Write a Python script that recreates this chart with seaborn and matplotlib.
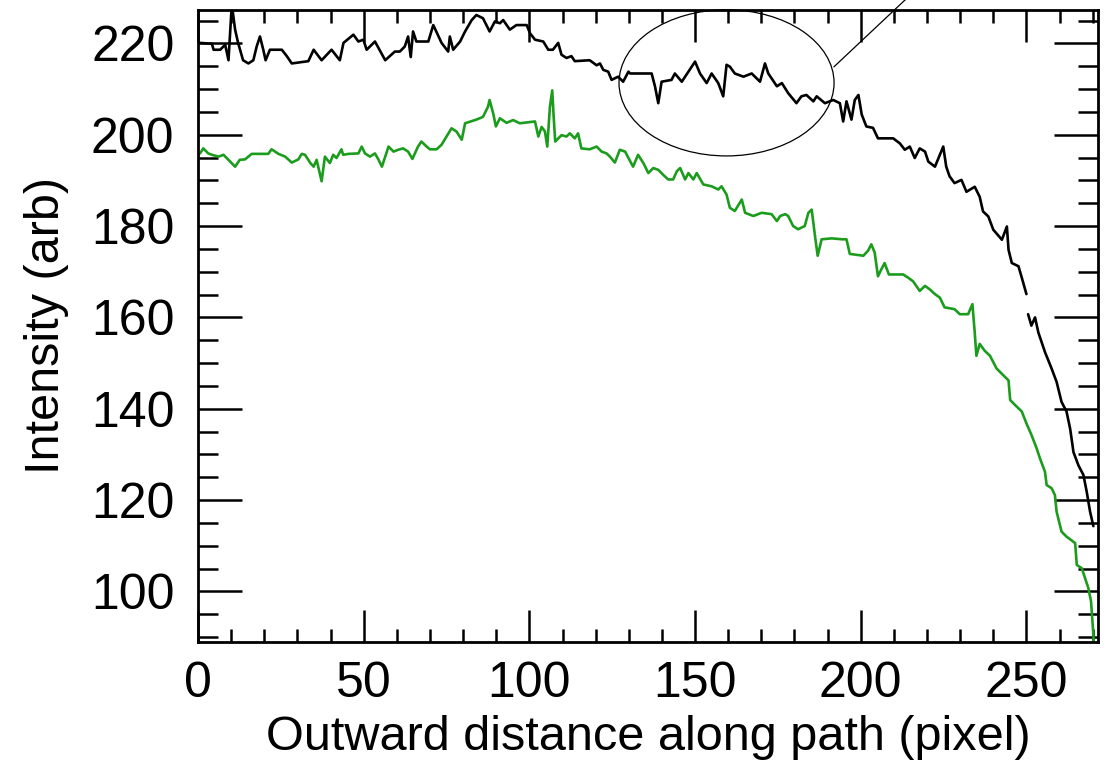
import numpy as np
import pandas as pd
import matplotlib
matplotlib.use("Agg")
import matplotlib.pyplot as plt
from matplotlib.patches import Ellipse
from matplotlib.ticker import MultipleLocator
import seaborn as sns

# ---------------- data ----------------
black_x = [0.6, 4.2, 4.7, 6.7, 8.2, 9.2, 10.2, 11.2, 12.1, 13.6, 15.2, 16.7, 17.7, 18.7, 19.7,
           20.4, 21.7, 25.3, 26.8, 28.3, 33.3, 34.9, 37.3, 40.3, 42.8, 43.9, 46.9, 48.4, 49.9,
           50.9, 53.4, 56.5, 59.4, 60.9, 62.4, 63.4, 64.2, 64.9, 65.9, 69.5, 71.0, 73.5, 75.5,
           76.0, 77.0, 79.1, 80.6, 82.6, 84.0, 86.0, 88.0, 89.6, 91.1, 92.1, 94.1, 96.1, 99.2,
           100.2, 101.7, 104.2, 105.7, 107.1, 108.7, 109.7, 111.2, 112.7, 113.7, 118.2, 120.3,
           121.3, 122.3, 123.8, 124.8, 126.8, 128.3, 129.9, 130.4, 136.9, 137.9, 138.9, 139.9,
           142.9, 143.9, 146.0, 148.0, 150.0, 151.5, 153.5, 155.0, 157.0, 158.5, 159.5, 160.5,
           162.0, 164.6, 167.1, 169.6, 171.1, 172.1, 174.7, 176.2, 178.1, 180.6, 182.1, 183.6,
           185.7, 186.7, 189.2, 191.7, 193.7, 194.7, 195.7, 197.2, 198.2, 199.3, 200.3, 201.7,
           203.7, 205.2, 209.8, 211.8, 213.3, 214.8, 216.3, 217.8, 219.4, 220.4, 222.4, 224.9,
           225.8, 226.8, 228.3, 230.4, 231.9, 234.4, 235.9, 236.9, 238.5, 240.0, 242.6, 244.1,
           244.6, 245.6, 247.6, 248.6, 250.0, 250.3,
           250.5, 251.5, 252.6, 253.6, 255.6, 257.6, 259.1, 260.6, 262.1, 263.2, 264.2, 265.7,
           267.2, 268.2, 269.2, 270.2]
black_y = [220.1, 219.9, 218.6, 218.6, 219.7, 216.3, 228.5, 223.0, 220.1, 216.3, 215.6, 216.3,
           219.3, 221.5, 218.6, 216.3, 218.6, 218.6, 217.2, 215.6, 216.1, 218.6, 216.3, 218.6,
           216.3, 220.1, 221.9, 220.4, 220.8, 218.6, 220.4, 216.3, 218.2, 218.2, 219.3, 221.5,
           217.0, 222.6, 220.4, 220.4, 224.0, 220.1, 218.2, 221.5, 218.6, 220.4, 222.6, 225.1,
           226.2, 225.5, 222.6, 224.8, 224.4, 225.1, 223.0, 224.0, 224.0, 222.2, 220.8, 220.4,
           218.6, 218.6, 220.1, 217.5, 216.8, 217.2, 216.1, 216.3, 215.2, 215.6, 214.2, 213.8,
           212.0, 212.7, 211.6, 213.8, 213.4, 213.4, 210.6, 206.9, 211.6, 212.0, 213.4, 211.6,
           213.8, 216.0, 213.4, 211.3, 213.4, 211.3, 208.4, 215.3, 214.9, 213.4, 212.7, 213.4,
           211.6, 215.6, 213.4, 210.6, 211.3, 209.1, 206.9, 208.4, 208.7, 207.3, 208.4, 206.9,
           207.6, 206.9, 202.9, 207.3, 203.3, 207.6, 208.7, 204.4, 201.8, 201.5, 199.2, 199.2,
           198.1, 196.7, 197.4, 194.9, 197.0, 196.3, 194.1, 193.0, 197.4, 193.0, 190.9, 189.4,
           190.1, 187.5, 188.6, 186.4, 183.2, 182.1, 179.2, 177.0, 179.9, 174.8, 171.9, 171.2,
           168.7, 165.1, np.nan,
           160.7, 158.2, 160.0, 156.7, 152.4, 148.8, 145.9, 141.5, 139.4, 135.6, 130.5, 127.6,
           125.5, 121.8, 117.5, 114.3]

green_x = [0.6, 1.6, 3.1, 4.2, 6.2, 7.7, 9.2, 10.2, 11.2, 12.6, 14.2, 16.2, 21.2, 22.2, 24.3,
           26.3, 28.3, 30.3, 31.3, 32.3, 33.9, 34.9, 35.8, 37.3, 38.3, 39.8, 40.8, 41.8, 43.3,
           43.8, 45.4, 48.4, 49.4, 50.4, 51.9, 53.4, 54.5, 55.5, 57.5, 59.0, 60.4, 61.9, 63.4,
           64.7, 66.4, 67.4, 69.0, 70.0, 72.0, 73.5, 75.0, 76.5, 78.0, 79.6, 80.1, 80.6, 84.0,
           86.0, 87.5, 88.0, 89.1, 89.9, 91.1, 93.1, 95.1, 97.1, 101.7, 102.7, 103.7, 104.7,
           105.4, 106.2, 106.9, 107.3, 107.8, 109.7, 111.2, 112.2, 113.7, 114.7, 115.7, 118.2,
           120.3, 121.8, 123.3, 124.3, 125.8, 127.3, 128.9, 129.9, 131.3, 132.8, 134.4, 135.9,
           137.4, 138.9, 140.4, 141.9, 143.4, 144.5, 145.5, 147.0, 148.0, 149.5, 150.5, 152.5,
           155.0, 157.0, 158.0, 159.5, 160.5, 162.0, 164.1, 165.1, 167.6, 170.1, 173.1, 174.7,
           175.7, 177.2, 178.1, 179.6, 181.1, 183.1, 184.2, 185.2, 186.2, 187.0, 188.2, 191.2,
           194.5, 195.7, 196.7, 200.8, 202.2, 203.2, 204.2, 205.2, 206.2, 207.2, 208.5, 212.8,
           214.3, 215.8, 217.8, 219.4, 220.9, 222.4, 223.9, 225.3, 228.3, 229.9, 232.4, 233.7,
           234.4, 234.9, 235.9, 237.4, 239.0, 241.0, 243.1, 244.6, 245.1, 246.6, 248.6, 250.0,
           251.5, 253.1, 254.1, 255.6, 256.1, 257.6, 258.6, 259.1, 260.6, 262.1, 264.7, 265.2,
           266.7, 267.7, 268.7, 269.5, 270.2, 270.5]
green_y = [195.9, 197.0, 195.9, 195.6, 195.2, 195.6, 194.5, 193.8, 193.0, 194.5, 194.6, 195.8,
           195.8, 196.8, 195.8, 195.2, 193.9, 194.6, 195.8, 195.6, 193.8, 193.0, 194.5, 189.8,
           195.2, 193.8, 195.6, 194.9, 196.8, 195.6, 195.8, 195.9, 197.4, 195.9, 195.2, 195.9,
           194.5, 193.0, 197.4, 196.3, 196.7, 197.0, 196.3, 194.7, 197.4, 198.5, 197.4, 196.8,
           196.8, 197.8, 199.6, 201.4, 200.7, 198.9, 200.7, 202.5, 203.3, 203.9, 206.1, 207.6,
           204.6, 201.8, 203.6, 202.6, 203.2, 202.5, 202.9, 199.6, 201.7, 200.7, 197.4, 206.1,
           209.7, 204.3, 198.5, 199.9, 199.6, 200.3, 199.2, 200.3, 197.0, 196.8, 197.4, 196.3,
           195.9, 195.2, 193.9, 196.7, 196.3, 194.9, 193.0, 195.6, 193.8, 191.6, 192.7, 192.3,
           191.2, 190.2, 190.2, 192.0, 192.7, 190.2, 191.6, 190.2, 191.6, 189.1, 188.7, 188.0,
           188.7, 186.9, 184.0, 183.3, 185.8, 182.9, 182.2, 182.9, 182.6, 181.1, 182.2, 182.6,
           182.2, 180.0, 179.3, 180.0, 182.9, 183.6, 177.8, 173.5, 177.1, 177.3, 177.1, 177.1,
           173.9, 173.5, 174.6, 176.0, 174.2, 169.0, 170.5, 171.9, 169.4, 169.4, 168.7, 167.9,
           165.8, 166.9, 166.1, 165.1, 164.3, 162.2, 161.8, 160.7, 160.7, 162.9, 156.7, 151.6,
           154.2, 152.7, 151.6, 148.8, 147.3, 146.2, 141.9, 140.8, 139.4, 136.8, 134.3, 131.3,
           129.1, 126.2, 123.3, 122.6, 121.1, 117.5, 113.1, 112.0, 110.6, 105.8, 105.1, 102.9,
           100.7, 97.8, 90.6, 86.0]

x_ticks = [0, 50, 100, 150, 200, 250]
y_ticks = [100, 120, 140, 160, 180, 200, 220]
x_title = "Outward distance along path (pixel)"
y_title = "Intensity (arb)"

# ---------------- figure ----------------
sns.set_style("ticks")
plt.rcParams["font.family"] = ["Liberation Sans", "DejaVu Sans"]
plt.rcParams["text.color"] = "black"
plt.rcParams["axes.labelcolor"] = "black"
plt.rcParams["xtick.color"] = "black"
plt.rcParams["ytick.color"] = "black"

fig = plt.figure(figsize=(11.05, 7.63), dpi=100)
ax = fig.add_axes([198 / 1105, 1 - 641.7 / 763, 900 / 1105, 631.7 / 763])


def to_frame(xs, ys):
    df = pd.DataFrame({"x": xs, "y": ys})
    df["seg"] = df["y"].isna().cumsum()
    return df.dropna()


black_df = to_frame(black_x, black_y)
green_df = to_frame(green_x, green_y)

sns.lineplot(data=black_df, x="x", y="y", units="seg", estimator=None, sort=False,
             color="black", linewidth=1.9, ax=ax)
sns.lineplot(data=green_df, x="x", y="y", units="seg", estimator=None, sort=False,
             color="#1c9c1c", linewidth=1.9, ax=ax)

ax.set_xlim(0, 271.6)
ax.set_ylim(89.0, 227.3)

ax.set_xticks(x_ticks)
ax.set_yticks(y_ticks)
ax.xaxis.set_minor_locator(MultipleLocator(10))
ax.yaxis.set_minor_locator(MultipleLocator(5))

ax.tick_params(which="both", direction="in", top=True, right=True, width=1.8,
               color="black", labelcolor="black")
ax.tick_params(axis="x", which="major", length=23, pad=14, labelsize=36)
ax.tick_params(axis="x", which="minor", length=9.5)
ax.tick_params(axis="y", which="major", length=31.7, pad=17, labelsize=36)
ax.tick_params(axis="y", which="minor", length=14.4)

for side in ["left", "right", "top", "bottom"]:
    ax.spines[side].set_visible(True)
    ax.spines[side].set_linewidth(2.0)
    ax.spines[side].set_color("black")

ax.set_xlabel(x_title, fontsize=35, labelpad=6, color="black")
ax.set_ylabel(y_title, fontsize=35, labelpad=16, color="black")

# annotation: ellipse and pointer line
ell = Ellipse((159.5, 211.35), width=64.9, height=32.0, fill=False,
              edgecolor="black", linewidth=0.9, clip_on=False)
ax.add_patch(ell)
ax.plot([191.9, 218.5], [214.85, 233.0], color="black", linewidth=0.9, clip_on=False)

fig.savefig("out.png", dpi=100)
